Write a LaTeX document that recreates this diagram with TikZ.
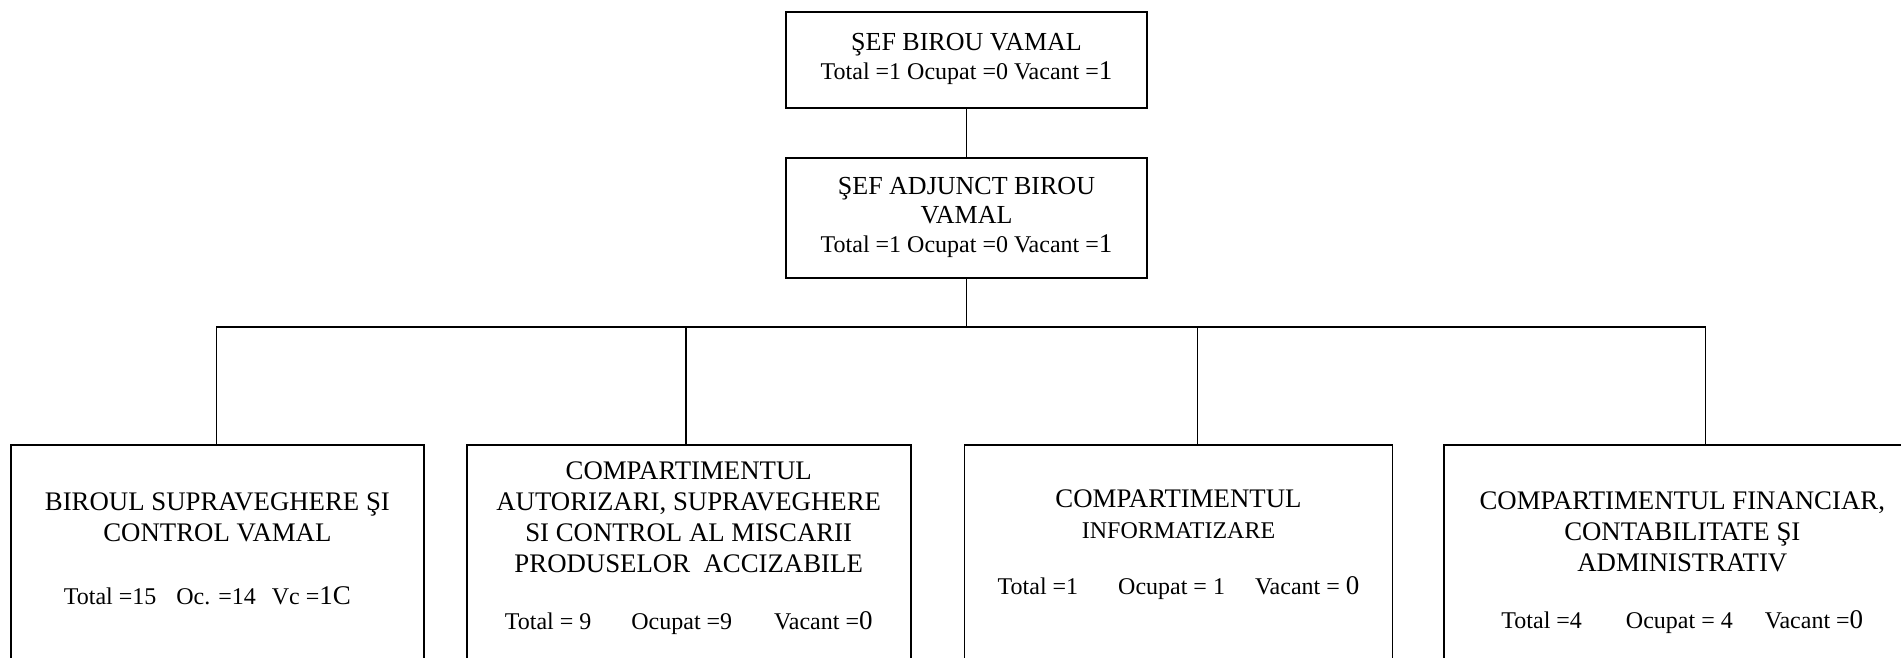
\documentclass[tikz,border=0pt]{standalone}
\usepackage{fontspec}
\setmainfont{Liberation Serif}
\usetikzlibrary{positioning}
\newcommand{\nums}{\fontsize{24}{26}\selectfont}
\newcommand{\bignum}[1]{{\fontsize{27}{27}\selectfont #1}}
\begin{document}
\begin{tikzpicture}[x=1pt, y=-1pt, node distance=48pt]
\tikzstyle{unit}=[draw, line width=1.8pt, align=center, inner sep=0pt, font=\fontsize{26}{29}\selectfont]
\tikzstyle{dept}=[unit, minimum height=300pt]
\tikzstyle{txt}=[align=center, inner sep=0pt, font=\fontsize{26.8}{30.8}\selectfont]
\tikzstyle{link}=[line width=1.6pt]
\clip (0,0) rectangle (1901,658);
\node[unit, minimum width=361pt, minimum height=96pt] (sef) at (966.5,60) {ŞEF BIROU VAMAL\\{\nums Total =1 Ocupat =0 Vacant =\bignum{1}}\rule[-8pt]{0pt}{0pt}};
\node[unit, minimum width=361pt, minimum height=120pt, below=of sef] (adj) {ŞEF ADJUNCT BIROU\\VAMAL\\{\nums Total =1 Ocupat =0 Vacant =\bignum{1}}};
\node[dept, minimum width=413pt, anchor=north west] (b1) at (10,444) {};
\node[dept, minimum width=444pt, right=41pt of b1] (b2) {};
\node[dept, minimum width=428pt, right=52pt of b2] (b3) {};
\node[dept, minimum width=476pt, right=50pt of b3] (b4) {};
\node[txt, below=49pt of b1.north] (t1) {BIROUL SUPRAVEGHERE ŞI\\CONTROL VAMAL\\[32pt]{\nums Total =15\hspace{20pt}Oc. =14\hspace{16pt}Vc =\bignum{1C}\hspace*{20pt}}};
\node[txt, below=18pt of b2.north] (t2) {COMPARTIMENTUL\\AUTORIZARI, SUPRAVEGHERE\\SI CONTROL AL MISCARII\\PRODUSELOR\ \ ACCIZABILE\\[26pt]{\nums Total = 9\hspace{40pt}Ocupat =9\hspace{42pt}Vacant =\bignum{0}}};
\node[txt, below=46pt of b3.north] (t3) {COMPARTIMENTUL\\{\fontsize{24}{26}\selectfont INFORMATIZARE}\\[25pt]{\nums Total =1\hspace{40pt}Ocupat = 1\hspace{30pt}Vacant = \bignum{0}}};
\node[txt, below=48pt of b4.north] (t4) {COMPARTIMENTUL FINANCIAR,\\CONTABILITATE ŞI\\ADMINISTRATIV\\[26pt]{\nums Total =4\hspace{44pt}Ocupat = 4\hspace{32pt}Vacant =\bignum{0}}};
\draw[link] (sef) -- (adj);
\draw[link] (adj.south) -- ++(0,-48pt) coordinate (bus);
\foreach \b/\s in {b1/-1,b2/-3,b3/19,b4/23}{\draw[link] ([xshift=\s pt]\b.north) |- (bus);}
\end{tikzpicture}
\end{document}
